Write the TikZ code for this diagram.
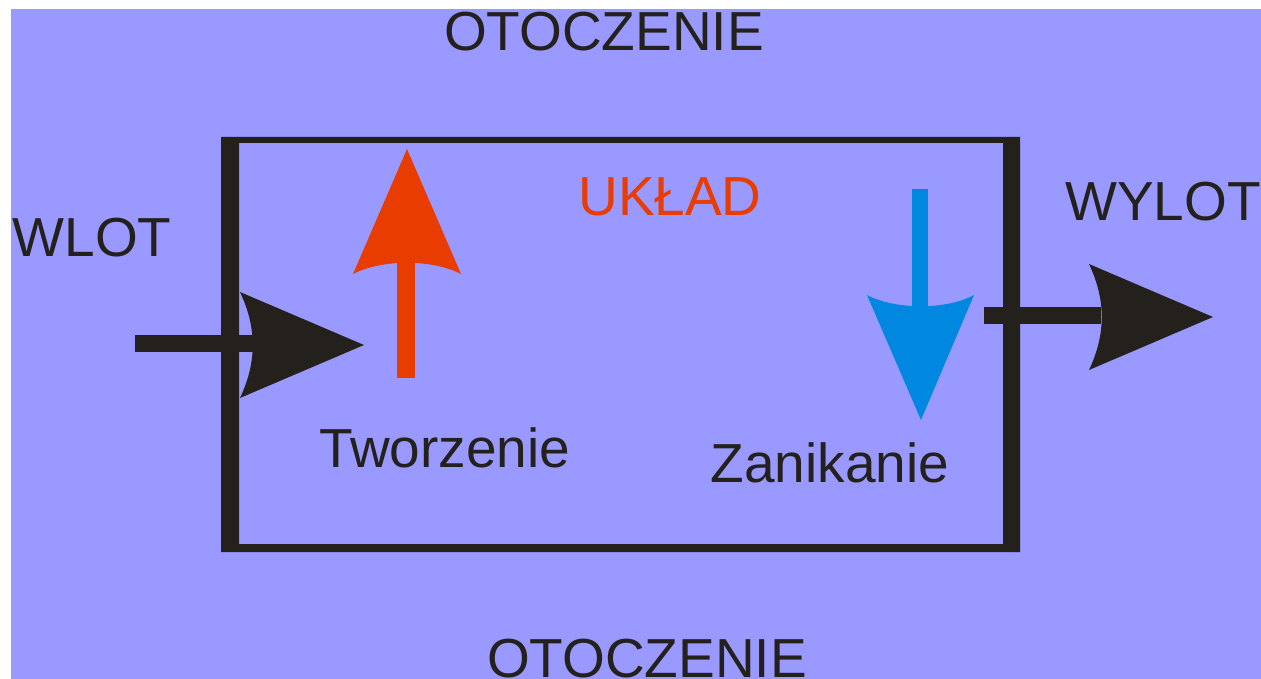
\documentclass[tikz,border=0pt]{standalone}
\usepackage{fontspec}
\setmainfont{Liberation Sans}
\definecolor{bgblue}{RGB}{153,153,255}
\definecolor{ink}{RGB}{36,33,28}
\definecolor{redarrow}{RGB}{232,60,0}
\definecolor{bluearrow}{RGB}{0,136,224}
\begin{document}
\begin{tikzpicture}[x=1pt,y=-1pt,
  lbl/.style={anchor=base,inner sep=0pt,font=\fontsize{55}{60}\selectfont,text=ink},
  redlbl/.style={lbl,text=redarrow},
  inkfill/.style={fill=ink},
  redfill/.style={fill=redarrow},
  bluefill/.style={fill=bluearrow}]
\useasboundingbox (0,0) rectangle (1261,679);
% background
\fill[bgblue] (11,9) rectangle (1261,679);
% system box (frame of uneven thickness)
\fill[ink,even odd rule] (221,137) rectangle (1020,552) (239,143) rectangle (1003,544);
% inlet arrow
\fill[inkfill] (135,335) rectangle (256,352);
\fill[inkfill] (240,292) -- (364,345) -- (240,398) .. controls (257,362) and (257,328) .. (240,292) -- cycle;
% outlet arrow
\fill[inkfill] (984,307) rectangle (1101,324);
\fill[inkfill] (1089,264) -- (1213,317) -- (1089,370) .. controls (1106,334) and (1106,300) .. (1089,264) -- cycle;
% creation arrow (red, up)
\fill[redfill] (397,378) rectangle (415,262);
\fill[redfill] (407,149) -- (461,274) .. controls (432,259) and (382,259) .. (353,274) -- cycle;
% annihilation arrow (blue, down)
\fill[bluefill] (912,189) rectangle (928,307);
\fill[bluefill] (921,420) -- (867,295) .. controls (895,310) and (947,310) .. (974,295) -- cycle;
% labels
\node[lbl] (otoczTop) at (604,51) {OTOCZENIE};
\node[lbl] (otoczBot) at (647,677) {OTOCZENIE};
\node[redlbl] (uklad) at (670,216) {UKŁAD};
\node[lbl] (wlot) at (92,256) {WLOT};
\node[lbl] (wylot) at (1163,221) {WYLOT};
\node[lbl] (tworz) at (445,467) {Tworzenie};
\node[lbl] (zanik) at (830,482) {Zanikanie};
\end{tikzpicture}
\end{document}
